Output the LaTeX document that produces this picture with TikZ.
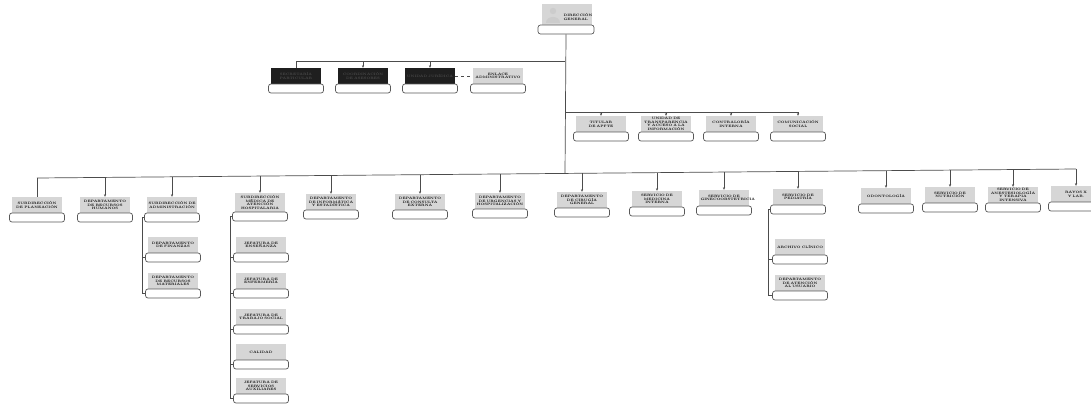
\documentclass[tikz,border=0pt]{standalone}
\usetikzlibrary{arrows.meta}
\newcommand\capfont{\fontsize{3.3}{3.7}\selectfont\bfseries\hyphenpenalty10000\exhyphenpenalty10000\relax}
\tikzset{
  capbox/.style={fill=black!16, minimum width=50pt, minimum height=16pt, inner sep=0.4pt, text width=47pt, align=center, font=\capfont},
  darkcap/.style={capbox, fill=black!88, text=black!70},
  pillbox/.style={draw=black!65, fill=white, rounded corners=2.5pt, minimum width=55pt, minimum height=9pt, inner sep=0pt, line width=0.7pt},
  conn/.style={draw=black!70, line width=0.7pt},
  tick/.style={conn, -{Stealth[length=2.6pt,width=2.2pt]}},
}
\newcommand\orgunit[5][capbox]{%
  \node[#1] (#2t) at (#3,#4-8) {#5};
  \node[pillbox] (#2) at (#3,#4+4.5) {};
}
\begin{document}
\begin{tikzpicture}[x=1pt,y=-1pt]
\path[use as bounding box, fill=white] (0,0) rectangle (1091,404);
\clip (0,0) rectangle (1091,404);

% ---------- top node ----------
\path[fill=black!16] (542,4) rectangle (592,25);
\coordinate (topt) at (567,14.5);
\fill[white!80!black] (553,11) circle (3.2);
\fill[white!80!black] (546,23) .. controls (546,15) and (560,15) .. (560,23) -- cycle;
\node[font=\capfont, align=left, inner sep=0pt] (toptx) at (578,17) {DIRECCIÓN\\GENERAL};
\node[pillbox, minimum width=56pt] (top) at (566,29.5) {};

% ---------- staff row A ----------
\orgunit[darkcap]{a1}{296}{84}{SECRETARÍA PARTICULAR}
\orgunit[darkcap]{a2}{363}{84}{COORDINACIÓN DE ASESORES}
\orgunit[darkcap]{a3}{430}{84}{UNIDAD JURÍDICA}
\orgunit{a4}{498}{84}{ENLACE ADMINISTRATIVO}
\coordinate (ja) at (565,61);
\draw[conn] (ja) -- (a1t.north |- ja) -- (a1t.north);
\draw[tick] (a2t.north |- ja) -- (a2t.north);
\draw[tick] (a3t.north |- ja) -- (a3t.north);
\draw[conn, dashed] (a3t.east) -- (a4t.west);

% ---------- staff row B ----------
\orgunit{b1}{601}{132}{TITULAR DE APFTE}
\orgunit{b2}{666}{132}{UNIDAD DE TRANSPARENCIA Y ACCESO A LA INFORMACIÓN}
\orgunit{b3}{731}{132}{CONTRALORÍA INTERNA}
\orgunit{b4}{798}{132}{COMUNICACIÓN SOCIAL}
\coordinate (jb) at (565,112);
\draw[conn] (jb) -- (b4t.north |- jb);
\foreach \n in {b1,b2,b3,b4} \draw[tick] (\n t.north |- jb) -- (\n t.north);

% ---------- main bus children ----------
\orgunit{c1}{37}{213}{SUBDIRECCIÓN DE PLANEACIÓN}
\orgunit{c2}{105}{213}{DEPARTAMENTO DE RECURSOS HUMANOS}
\orgunit{c3}{172}{213}{SUBDIRECCIÓN DE ADMINISTRACIÓN}
\node[capbox, minimum height=19pt] (c4t) at (260,202.5) {SUBDIRECCIÓN MÉDICA DE ATENCIÓN HOSPITALARIA};
\node[pillbox] (c4) at (260,216.5) {};
\orgunit{c5}{331}{210}{DEPARTAMENTO DE INFORMÁTICA Y ESTADÍSTICA}
\orgunit{c6}{420}{210}{DEPARTAMENTO DE CONSULTA EXTERNA}
\orgunit{c7}{500}{209}{DEPARTAMENTO DE URGENCIAS Y HOSPITALIZACIÓN}
\orgunit{c8}{582}{208}{DEPARTAMENTO DE CIRUGÍA GENERAL}
\orgunit{c9}{657}{207}{SERVICIO DE MEDICINA INTERNA}
\orgunit{c10}{724}{206}{SERVICIO DE GINECOOBSTETRICIA}
\orgunit{c11}{798}{205}{SERVICIO DE PEDIATRÍA}
\orgunit{c12}{886}{204}{ODONTOLOGÍA}
\orgunit{c13}{950}{203}{SERVICIO DE NUTRICIÓN}
\orgunit{c14}{1013}{203}{SERVICIO DE ANESTESIOLOGÍA Y TERAPIA INTENSIVA}
\node[capbox, text width=30pt] (c15t) at (1076,194) {RAYOS X\\Y LAB.};
\node[pillbox] (c15) at (1076,206.5) {};

% bus
\coordinate (k1) at (37,178);
\coordinate (k2) at (105,177.4);
\coordinate (k3) at (172,176.8);
\coordinate (k4) at (260,176.1);
\coordinate (k5) at (331,175.5);
\coordinate (k6) at (420,174.7);
\coordinate (k7) at (500,174);
\coordinate (jc) at (565,173.4);
\coordinate (k8) at (582,173.3);
\coordinate (k9) at (657,172.6);
\coordinate (k10) at (724,172);
\coordinate (k11) at (798,171.4);
\coordinate (k12) at (886,170.6);
\coordinate (k13) at (950,170.1);
\coordinate (k14) at (1013,169.5);
\coordinate (k15) at (1076,169);
\draw[conn] (k1) -- (k15);
\draw[conn] (top.south) -- (jc);
\draw[conn] (k1) -- (c1t.north);
\foreach \i in {2,...,15} \draw[tick] (k\i) -- (c\i t.north);

% ---------- sub-children ----------
\orgunit{c3a}{173}{253}{DEPARTAMENTO DE FINANZAS}
\orgunit{c3b}{173}{289}{DEPARTAMENTO DE RECURSOS MATERIALES}
\draw[conn] (c3.west) -- ++(-2,0) |- (c3b.west);
\draw[conn] (c3.west) ++(-2,0) |- (c3a.west);

\orgunit{c4a}{261}{253}{JEFATURA DE ENSEÑANZA}
\orgunit{c4b}{261}{289}{JEFATURA DE ENFERMERÍA}
\orgunit{c4c}{261}{325}{JEFATURA DE TRABAJO SOCIAL}
\orgunit{c4d}{261}{360}{CALIDAD}
\orgunit{c4e}{261}{394}{JEFATURA DE SERVICIOS AUXILIARES}
\draw[conn] (c4.west) -- ++(-2,0) |- (c4e.west);
\foreach \n in {c4a,c4b,c4c,c4d} \draw[conn] (c4.west) ++(-2,0) |- (\n.west);

\orgunit{c11a}{800}{255}{ARCHIVO CLÍNICO}
\orgunit{c11b}{800}{291}{DEPARTAMENTO DE ATENCIÓN AL USUARIO}
\draw[conn] (c11.west) -- ++(-2,0) |- (c11b.west);
\draw[conn] (c11.west) ++(-2,0) |- (c11a.west);
\end{tikzpicture}
\end{document}
